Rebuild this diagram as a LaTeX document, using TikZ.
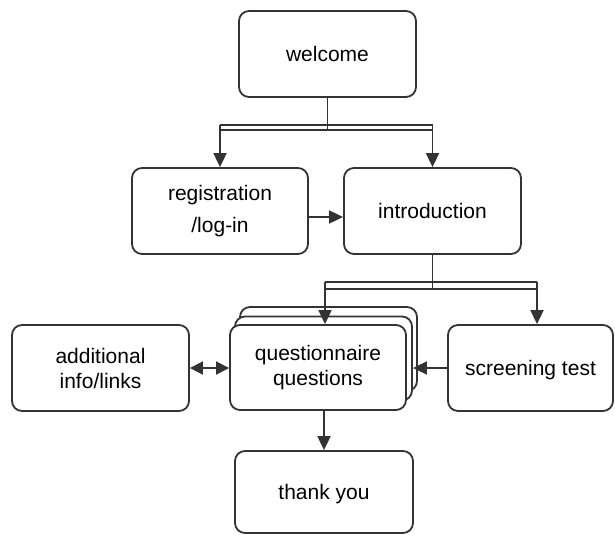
\documentclass[tikz,border=0pt]{standalone}
\usepackage{fontspec}
\setmainfont{Liberation Sans}
\usetikzlibrary{arrows.meta}
\definecolor{lc}{HTML}{333333}
\tikzset{
  box/.style={draw=lc, line width=1.8pt, rounded corners=10pt, fill=white,
    align=center, inner sep=0pt, font=\fontsize{21}{25}\selectfont},
  arr/.style={draw=lc, line width=1.8pt, -{Triangle[length=14pt,width=13pt]}},
  darr/.style={draw=lc, line width=1.8pt, {Triangle[length=13pt,width=13pt]}-{Triangle[length=13pt,width=13pt]}},
  ln/.style={draw=lc, line width=1.8pt},
}
\begin{document}
\begin{tikzpicture}[x=1pt,y=-1pt]
\useasboundingbox (0,0) rectangle (615,536);
% boxes
\node[box, minimum width=177pt, minimum height=86pt] (welcome) at (327.5,54) {welcome};
\node[box, minimum width=176pt, minimum height=86pt] (reg) at (220,211) {registration\\[7pt]/log-in};
\node[box, minimum width=177pt, minimum height=86pt] (intro) at (432.5,211) {introduction};
\node[box, minimum width=177pt, minimum height=84pt] (qb) at (328.5,349) {};
\node[box, minimum width=177pt, minimum height=84pt] (qm) at (323.5,358.5) {};
\node[box, minimum width=176pt, minimum height=85pt] (qf) at (318,367.5) {questionnaire\\questions};
\node[box, minimum width=165pt, minimum height=86pt, text depth=0pt] (scr) at (530.5,368) {screening test};
\node[box, minimum width=177pt, minimum height=86pt] (add) at (100.5,368) {additional\\info/links};
\node[box, minimum width=178pt, minimum height=82pt, text depth=0pt] (thanks) at (324,492) {thank you};
% bar 1
\coordinate (b1L) at (220,125);
\coordinate (b1R) at (432.5,125);
\coordinate (b1Ll) at (220,130);
\coordinate (b1Rl) at (432.5,130);
\draw[ln] (welcome.south) -- (welcome.south |- b1Ll);
\draw[ln] (b1L) -- (b1R);
\draw[ln] (b1Ll) -- (b1Rl);
\draw[arr] (b1L) -- (reg.north);
\draw[arr] (b1R) -- (intro.north);
% reg -> intro
\draw[arr] ([yshift=-6pt]reg.east) -- ([yshift=-6pt]intro.west);
% bar 2
\coordinate (b2L) at (325,282);
\coordinate (b2R) at (537,282);
\coordinate (b2Ll) at (325,289);
\coordinate (b2Rl) at (537,289);
\draw[ln] (intro.south) -- (intro.south |- b2Ll);
\draw[ln] (b2L) -- (b2R);
\draw[ln] (b2Ll) -- (b2Rl);
\draw[arr] (b2L) -- (qf.north -| b2L);
\draw[arr] (b2R) -- (scr.north -| b2R);
% others
\draw[arr] (scr.west) -- (qm.east |- scr.west);
\draw[darr] (add.east) -- (qf.west |- add.east);
\draw[arr] (thanks.north |- qf.south) -- (thanks.north);
\end{tikzpicture}
\end{document}
